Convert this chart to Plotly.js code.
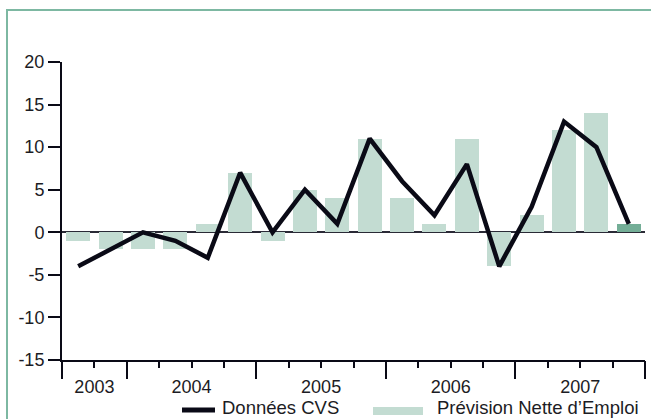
<!DOCTYPE html>
<html><head><meta charset="utf-8">
<script src="https://cdn.plot.ly/plotly-3.0.1.min.js"></script>
<style>
html,body{margin:0;padding:0;background:#fff;}
#wrap{position:relative;width:651px;height:419px;overflow:hidden;}
#chart{width:651px;height:419px;}
#frame{position:absolute;left:6px;top:9px;width:700px;height:500px;border-left:2px solid #7db8a2;border-top:2px solid #7db8a2;pointer-events:none;}
</style>
</head><body>
<div id="wrap"><div id="chart"></div><div id="frame"></div></div>
<script>
// Data
const quarters = ['T3 2003','T4 2003','T1 2004','T2 2004','T3 2004','T4 2004','T1 2005','T2 2005','T3 2005','T4 2005','T1 2006','T2 2006','T3 2006','T4 2006','T1 2007','T2 2007','T3 2007','T4 2007'];
const years = ['2003','2004','2005','2006','2007'];
const quartersPerYear = [2,4,4,4,4];
const prevision = [-1,-2,-2,-2,1,7,-1,5,4,11,4,1,11,-4,2,12,14,1];
const cvs = [-4,-2,0,-1,-3,7,0,5,1,11,6,2,8,-4,3,13,10,1];
const yTickVals = [-15,-10,-5,0,5,10,15,20];
const yTickText = ['-15','-10','-5','0','5','10','15','20'];
const legendNames = ['Données CVS', "Prévision Nette d’Emploi"];

// Derived positions
const xIdx = quarters.map((q,i)=>i);
const majorVals = [-0.5];
const yearCenters = [];
let acc = -0.5;
quartersPerYear.forEach(n=>{ yearCenters.push(acc + n/2); acc += n; majorVals.push(acc); });
const minorVals = xIdx.map(i=>i+0.5);

const lightGreen = '#c3dcd2', darkGreen = '#74ae97';
const barColors = prevision.map((v,i)=> i===prevision.length-1 ? darkGreen : lightGreen);

const W=651,H=419, L=62, R=6, T=62, B=59;
const pw=W-L-R, ph=H-T-B;
const px = x => (x-L)/pw;
const py = y => (H-B-y)/ph;

const txtColor = '#1c1c24';
const font = {family:'"Liberation Sans", Arial, sans-serif', size:18, color:txtColor};
const legFont = {family:'"Liberation Sans", Arial, sans-serif', size:18.5, color:txtColor};

const traces = [
  {type:'bar', x:xIdx, y:prevision, marker:{color:barColors}, width:0.74, showlegend:false, hoverinfo:'y'},
  {type:'scatter', mode:'lines', x:xIdx, y:cvs, line:{color:'#0a0a16', width:4.5}, showlegend:false, hoverinfo:'y'},
  {type:'scatter', mode:'lines', x:[0], y:[0], xaxis:'x2', showlegend:false, hoverinfo:'skip', line:{width:0}}
];

const layout = {
  width:W, height:H,
  margin:{l:L, r:R, t:T, b:B},
  paper_bgcolor:'rgba(0,0,0,0)', plot_bgcolor:'rgba(0,0,0,0)',
  font:font,
  showlegend:false,
  bargap:0,
  xaxis:{range:[-0.5,17.5], tickmode:'array', tickvals:yearCenters, ticktext:years, ticks:'',
         showline:true, linecolor:'#0a0a16', linewidth:2, showgrid:false, zeroline:false,
         ticklabelstandoff:9, tickfont:font, fixedrange:true,
         minor:{tickmode:'array', tickvals:minorVals, ticks:'outside', ticklen:6, tickwidth:2, tickcolor:'#0a0a16', showgrid:false}},
  xaxis2:{range:[-0.5,17.5], overlaying:'x', side:'bottom', anchor:'y', tickmode:'array', tickvals:majorVals, ticktext:majorVals.map(()=>''),
          ticks:'outside', ticklen:18, tickwidth:2, tickcolor:'#0a0a16', showgrid:false, zeroline:false, showline:false, fixedrange:true},
  yaxis:{range:[-15,20], tickmode:'array', tickvals:yTickVals, ticktext:yTickText, ticks:'outside', ticklen:12, tickwidth:2, tickcolor:'#0a0a16',
         showline:true, linecolor:'#0a0a16', linewidth:2, showgrid:false, zeroline:true, zerolinecolor:'#2a2a36', zerolinewidth:2,
         tickfont:font, fixedrange:true},
  shapes:[
    {type:'line', xref:'paper', yref:'paper', x0:px(182), x1:px(215), y0:py(410), y1:py(410), line:{color:'#0a0a16', width:5}},
    {type:'rect', xref:'paper', yref:'paper', x0:px(373), x1:px(423), y0:py(415), y1:py(407), line:{width:0}, fillcolor:lightGreen}
  ],
  annotations:[
    {xref:'paper', yref:'paper', x:px(221), y:py(419), xanchor:'left', yanchor:'bottom', borderpad:0, text:legendNames[0], showarrow:false, font:legFont},
    {xref:'paper', yref:'paper', x:px(436), y:py(419), xanchor:'left', yanchor:'bottom', borderpad:0, text:legendNames[1], showarrow:false, font:legFont}
  ]
};

Plotly.newPlot('chart', traces, layout, {displayModeBar:false, staticPlot:true});
</script>
</body></html>
